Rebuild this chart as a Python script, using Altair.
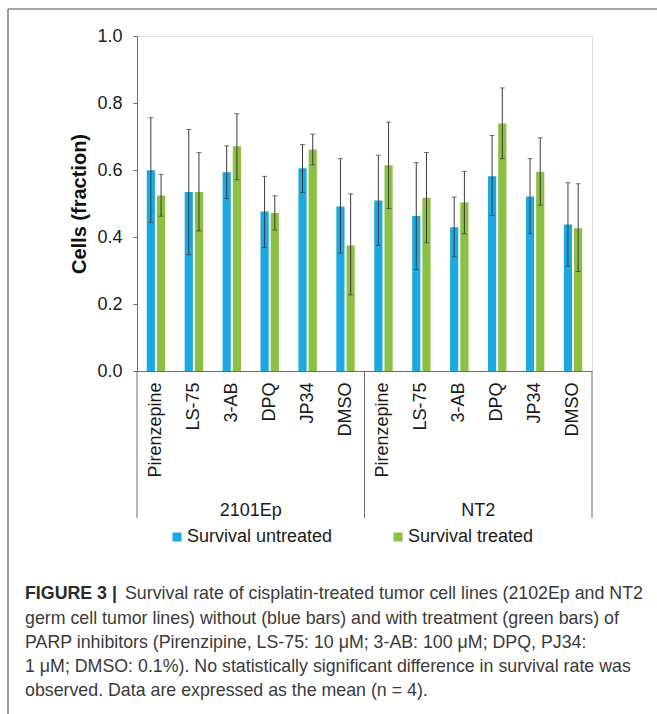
import altair as alt
import pandas as pd

# ---------------- data ----------------
cell_lines = ["2101Ep"] * 6 + ["NT2"] * 6
agents = ["Pirenzepine", "LS-75", "3-AB", "DPQ", "JP34", "DMSO"] * 2
series_names = ["Survival untreated", "Survival treated"]

untreated_mean = [0.599, 0.534, 0.593, 0.476, 0.605, 0.491, 0.509, 0.463, 0.429, 0.581, 0.521, 0.437]
untreated_hi = [0.756, 0.721, 0.672, 0.581, 0.676, 0.634, 0.644, 0.622, 0.519, 0.703, 0.634, 0.562]
untreated_lo = [0.443, 0.347, 0.515, 0.369, 0.533, 0.352, 0.375, 0.303, 0.341, 0.464, 0.410, 0.313]

treated_mean = [0.524, 0.534, 0.671, 0.472, 0.661, 0.375, 0.614, 0.517, 0.504, 0.739, 0.595, 0.426]
treated_hi = [0.587, 0.652, 0.768, 0.523, 0.707, 0.529, 0.743, 0.652, 0.596, 0.845, 0.696, 0.559]
treated_lo = [0.462, 0.418, 0.571, 0.421, 0.615, 0.227, 0.485, 0.383, 0.410, 0.634, 0.495, 0.297]

y_ticks = [0.0, 0.2, 0.4, 0.6, 0.8, 1.0]
y_title = "Cells (fraction)"

caption_bold = "FIGURE 3 |"
caption_line1 = "Survival rate of cisplatin-treated tumor cell lines (2102Ep and NT2"
caption_rest = [
    "germ cell tumor lines) without (blue bars) and with treatment (green bars) of",
    "PARP inhibitors (Pirenzipine, LS-75: 10 \u03bcM; 3-AB: 100 \u03bcM; DPQ, PJ34:",
    "1 \u03bcM; DMSO: 0.1%). No statistically significant difference in survival rate was",
    "observed. Data are expressed as the mean (n = 4).",
]

# ---------------- tables ----------------
key_order = [f"{c}|{a}" for c, a in zip(cell_lines, agents)]
rows = []
for i, k in enumerate(key_order):
    rows.append(dict(key=k, series=series_names[0], mean=untreated_mean[i],
                     lo=untreated_lo[i], hi=untreated_hi[i]))
    rows.append(dict(key=k, series=series_names[1], mean=treated_mean[i],
                     lo=treated_lo[i], hi=treated_hi[i]))
df = pd.DataFrame(rows)

group_df = pd.DataFrame({"key": ["2101Ep|3-AB", "NT2|3-AB"], "label": ["2101Ep", "NT2"]})
div_left_df = pd.DataFrame({"key": ["2101Ep|Pirenzepine", "NT2|Pirenzepine"]})
div_right_df = pd.DataFrame({"key": ["NT2|DMSO"]})
one_df = pd.DataFrame({"a": [0]})
cap_df = pd.DataFrame({"bold": [caption_bold], "l1": [caption_line1],
                       "rest": ["\n".join(caption_rest)]})

# ---------------- styling ----------------
W, H = 455, 335
FONT = "Liberation Sans"
CAP_FS = 17.8
BLUE, GREEN = "#1CA9E1", "#8BC043"
AXC = "#6b6b6b"
ERRC = "#3a3a3a"

x_axis = alt.Axis(title=None, labelExpr="split(datum.label, '|')[1]", labelAngle=270,
                  labelFontSize=18, labelPadding=11, ticks=False, domainColor=AXC,
                  labelColor="#1a1a1a", labelFont=FONT)
x_scale = alt.Scale(domain=key_order, paddingInner=0, paddingOuter=0)
y_axis = alt.Axis(title=y_title, values=y_ticks, format=".1f", grid=False, tickSize=4,
                  tickColor=AXC, domainColor=AXC, labelFontSize=18, labelPadding=11,
                  labelColor="#1a1a1a", labelFont=FONT, titleFont=FONT, titleFontSize=20,
                  titleFontWeight="bold", titleColor="#111111", titlePadding=7)
y_scale = alt.Scale(domain=[0, 1], nice=False)
off_scale = alt.Scale(domain=series_names, paddingInner=0.196, paddingOuter=0.957)


def X(**kw):
    return alt.X("key:N", scale=x_scale, axis=x_axis, **kw)


def XO():
    return alt.XOffset("series:N", scale=off_scale)


base = alt.Chart(df)

bars = base.mark_bar().encode(
    x=X(), xOffset=XO(),
    y=alt.Y("mean:Q", scale=y_scale, axis=y_axis),
    color=alt.Color("series:N", scale=alt.Scale(domain=series_names, range=[BLUE, GREEN]),
                    legend=alt.Legend(title=None, orient="none", legendX=31, legendY=492,
                                      direction="horizontal", symbolType="square",
                                      symbolSize=81, symbolStrokeWidth=0, labelFontSize=18,
                                      labelFont=FONT, labelColor="#1a1a1a", labelOffset=1,
                                      columnPadding=56)),
)

err = base.mark_rule(color=ERRC, strokeWidth=1).encode(
    x=X(), xOffset=XO(),
    y=alt.Y("lo:Q", scale=y_scale, axis=y_axis), y2="hi:Q")
cap_hi = base.mark_tick(color=ERRC, size=5, thickness=1, orient="horizontal").encode(
    x=X(), xOffset=XO(), y=alt.Y("hi:Q", scale=y_scale, axis=y_axis))
cap_lo = base.mark_tick(color=ERRC, size=5, thickness=1, orient="horizontal").encode(
    x=X(), xOffset=XO(), y=alt.Y("lo:Q", scale=y_scale, axis=y_axis))

div_l = alt.Chart(div_left_df).mark_rule(color=AXC, strokeWidth=1).encode(
    x=X(bandPosition=0), y=alt.value(H), y2=alt.value(H + 147))
div_r = alt.Chart(div_right_df).mark_rule(color=AXC, strokeWidth=1).encode(
    x=X(bandPosition=1), y=alt.value(H), y2=alt.value(H + 147))

groups = alt.Chart(group_df).mark_text(fontSize=18, font=FONT, color="#1a1a1a",
                                       baseline="middle").encode(
    x=X(bandPosition=1), y=alt.value(475), text="label:N")

frame_top = alt.Chart(one_df).mark_rule(color="#8a8a8a", strokeWidth=1.7).encode(
    x=alt.value(-129), x2=alt.value(520), y=alt.value(-27))
frame_left = alt.Chart(one_df).mark_rule(color="#8a8a8a", strokeWidth=1.7).encode(
    x=alt.value(-129), y=alt.value(-27), y2=alt.value(700))

cap_b = alt.Chart(cap_df).mark_text(font=FONT, fontSize=CAP_FS, fontWeight="bold",
                                    color="#2b2b2b", align="left",
                                    baseline="alphabetic").encode(
    x=alt.value(-112), y=alt.value(563), text="bold:N")
cap_1 = alt.Chart(cap_df).mark_text(font=FONT, fontSize=CAP_FS, color="#3a3a3a",
                                    align="left", baseline="alphabetic").encode(
    x=alt.value(-12), y=alt.value(563), text="l1:N")
cap_r = alt.Chart(cap_df).mark_text(font=FONT, fontSize=CAP_FS, color="#3a3a3a", align="left",
                                    baseline="alphabetic", lineBreak="\n",
                                    lineHeight=24.1).encode(
    x=alt.value(-112), y=alt.value(587.5), text="rest:N")

chart = alt.layer(
    bars, err, cap_hi, cap_lo, div_l, div_r, groups,
    frame_top, frame_left, cap_b, cap_1, cap_r
).properties(
    width=W, height=H,
    autosize=alt.AutoSizeParams(type="none"),
    padding={"left": 137, "top": 36, "right": 65, "bottom": 343},
).configure_view(stroke=None).configure(background="white")

chart.save("out.html", embed_options={"renderer": "svg", "actions": False})
